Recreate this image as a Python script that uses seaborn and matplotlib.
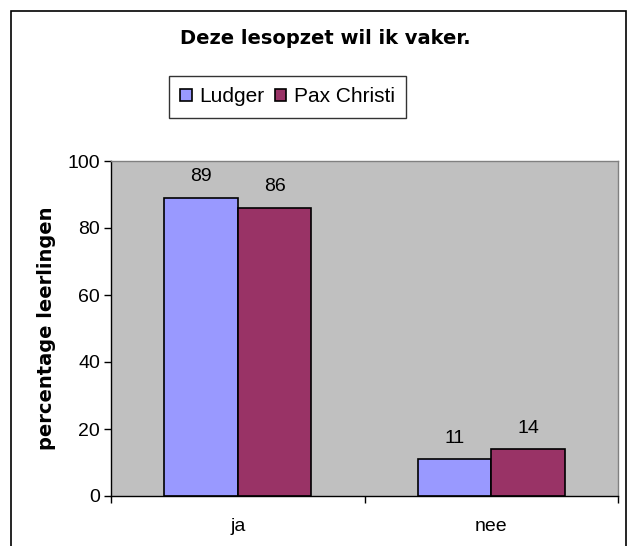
import matplotlib
matplotlib.use("Agg")
import matplotlib.pyplot as plt
import seaborn as sns
import pandas as pd
from matplotlib.patches import Rectangle

# data
categories = ["ja", "nee"]
schools = ["Ludger", "Pax Christi"]
ludger = [89, 11]
pax_christi = [86, 14]
yticks = [0, 20, 40, 60, 80, 100]

df = pd.DataFrame({
    "antwoord": categories * 2,
    "school": [schools[0]] * 2 + [schools[1]] * 2,
    "percentage": ludger + pax_christi,
})

sns.set_theme(style="white")
plt.rcParams["font.family"] = ["Liberation Sans", "DejaVu Sans"]
plt.rcParams["text.color"] = "black"
plt.rcParams["axes.labelcolor"] = "black"
plt.rcParams["xtick.color"] = "black"
plt.rcParams["ytick.color"] = "black"

fs = 14
bold_font = ["DejaVu Sans"]

fig = plt.figure(figsize=(6.31, 5.46), dpi=100)
ax = fig.add_axes([111 / 631, 50 / 546, 507 / 631, 335 / 546])

sns.barplot(
    data=df, x="antwoord", y="percentage", hue="school",
    palette=["#9999FF", "#993366"], saturation=1, width=0.58,
    edgecolor="black", linewidth=1.2, ax=ax, legend=True,
)

for cont in ax.containers:
    ax.bar_label(cont, fmt="%d", padding=9, fontsize=fs)

ax.set_facecolor("#C0C0C0")
ax.set_xlim(-0.5, 1.5)
ax.set_ylim(0, 100)
ax.set_yticks(yticks)
ax.tick_params(axis="y", direction="out", length=5, width=1, labelsize=fs,
               left=True, pad=3)
ax.set_xticks([-0.5, 0.5, 1.5], minor=True)
ax.tick_params(axis="x", which="minor", direction="out", length=5, width=1,
               bottom=True)
ax.tick_params(axis="x", which="major", length=0, labelsize=fs, pad=16)
ax.set_xlabel("")
ax.set_ylabel("percentage leerlingen", fontsize=fs, fontweight="bold",
              family=bold_font, labelpad=8)
for side in ["left", "bottom"]:
    ax.spines[side].set_color("black")
    ax.spines[side].set_linewidth(1)
for side in ["top", "right"]:
    ax.spines[side].set_color("#808080")
    ax.spines[side].set_linewidth(1)

leg = ax.legend(
    loc="center", bbox_to_anchor=(287.5 / 631, 1 - 97 / 546),
    bbox_transform=fig.transFigure, ncol=2, frameon=True, fancybox=False,
    edgecolor="black", fontsize=15, handlelength=0.55, handleheight=0.55,
    handletextpad=0.35, columnspacing=0.5, borderpad=0.55, borderaxespad=0,
)
leg.get_frame().set_linewidth(1)
for h in leg.legend_handles:
    h.set_edgecolor("black")
    h.set_linewidth(1.2)

fig.text(325 / 631, 1 - 39 / 546, "Deze lesopzet wil ik vaker.", ha="center",
         va="center", fontsize=fs, fontweight="bold", family=bold_font)

# outer chart border
fig.patches.append(Rectangle((11 / 631, -0.05), 615 / 631, 1 - 11 / 546 + 0.05,
                             transform=fig.transFigure, fill=False,
                             edgecolor="black", linewidth=1.2))

fig.savefig("out.png", dpi=100)
